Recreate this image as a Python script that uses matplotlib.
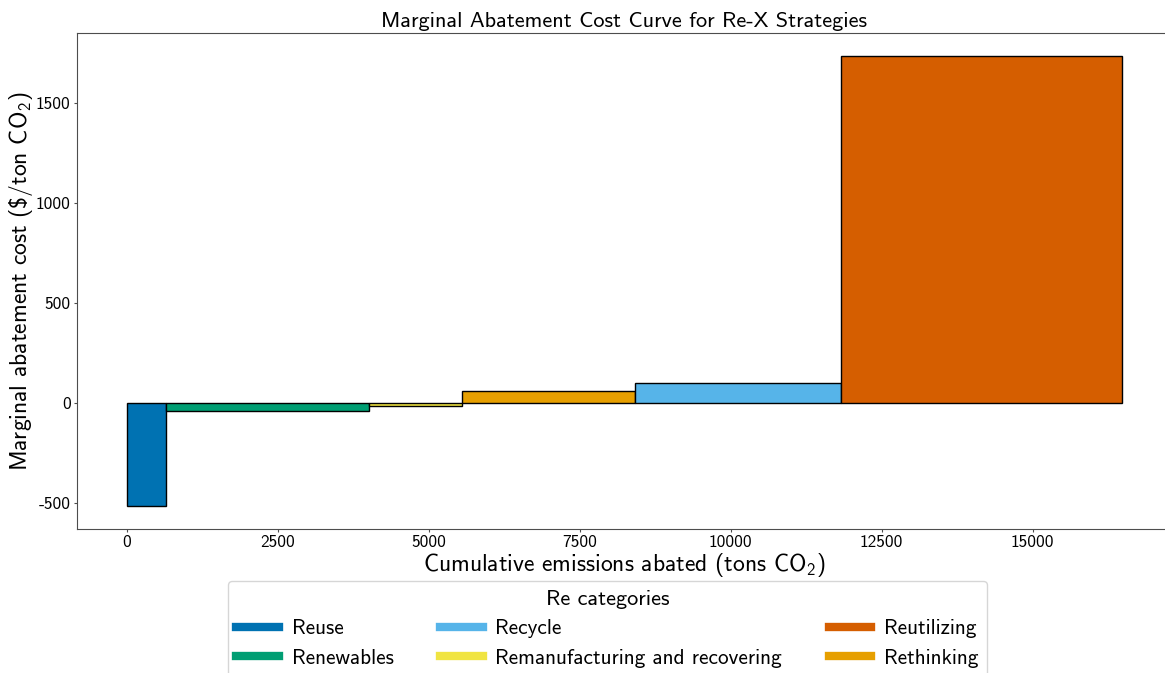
import matplotlib
matplotlib.use("Agg")
import matplotlib.pyplot as plt
from matplotlib.lines import Line2D

# Re-X strategies: abatement potential (tons CO2) and marginal cost ($/ton CO2)
strategies = ["Reuse", "Renewables", "Remanufacturing and recovering",
              "Rethinking", "Recycle", "Reutilizing"]
abated = [645, 3360, 1555, 2865, 3410, 4650]
cost = [-515, -40, -15, 62, 102, 1736]

colors = {
    "Reuse": "#0072B2",
    "Renewables": "#009E73",
    "Recycle": "#56B4E9",
    "Remanufacturing and recovering": "#F0E442",
    "Reutilizing": "#D55E00",
    "Rethinking": "#E69F00",
}
legend_order = ["Reuse", "Renewables", "Recycle",
                "Remanufacturing and recovering", "Reutilizing", "Rethinking"]

plt.rcParams["font.family"] = ["cmss10", "DejaVu Sans"]
plt.rcParams["mathtext.fontset"] = "custom"
plt.rcParams["mathtext.rm"] = "cmss10"
plt.rcParams["mathtext.it"] = "cmss10"
plt.rcParams["axes.unicode_minus"] = False
plt.rcParams["axes.formatter.use_mathtext"] = False

fig = plt.figure(figsize=(11.65, 6.73), dpi=100)
ax = fig.add_axes([0.066, 0.2146, 0.94, 0.7364])

# stack the bars side by side along the cumulative axis
left = 0
for name, w, c in zip(strategies, abated, cost):
    ax.bar(left, c, width=w, align="edge", color=colors[name],
           edgecolor="black", linewidth=1)
    left += w

ax.set_title("Marginal Abatement Cost Curve for Re-X Strategies", fontsize=16, pad=4)
ax.set_xlabel("Cumulative emissions abated (tons CO$_2$)", fontsize=17, labelpad=1)
ax.set_ylabel("Marginal abatement cost (\\$/ton CO$_2$)", fontsize=17, labelpad=0.5)
ax.tick_params(labelsize=12.5, length=2.5, pad=2, color="0.3")
for sp in ax.spines.values():
    sp.set_color("0.3")
ax.set_xticks([0, 2500, 5000, 7500, 10000, 12500, 15000])
ax.set_yticks([-500, 0, 500, 1000, 1500])

handles = [Line2D([0], [0], color=colors[n], linewidth=6) for n in legend_order]
fig.legend(handles, legend_order, title="Re categories", ncol=3,
           loc="upper center", bbox_to_anchor=(0.5215, 0.1367),
           fontsize=15.3, title_fontsize=16, frameon=True,
           handlelength=2.0, handletextpad=0.6, columnspacing=2.2,
           labelspacing=0.5, borderaxespad=0)

fig.savefig("out.png", dpi=100)
